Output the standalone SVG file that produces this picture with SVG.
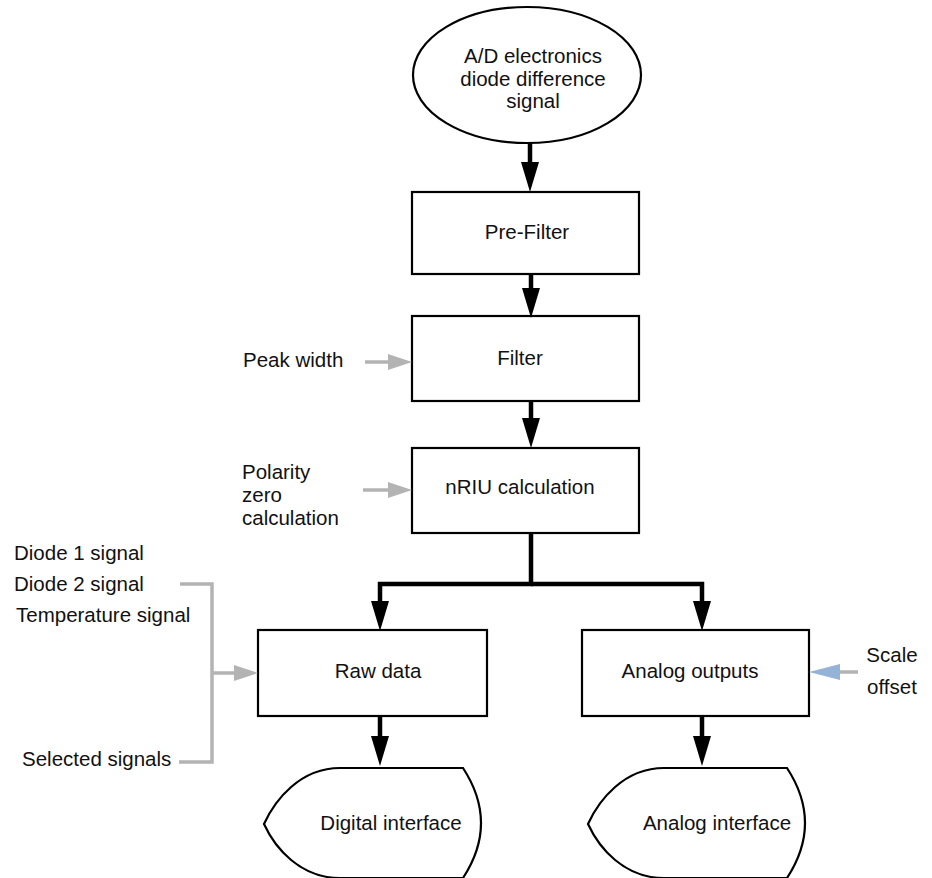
<svg xmlns="http://www.w3.org/2000/svg" width="932" height="878" viewBox="0 0 932 878">
<style>
  .shape { fill: #ffffff; stroke: #000000; stroke-width: 2.2; }
  .lbl { font-family: "Liberation Sans", Arial, sans-serif; font-size: 20.5px; fill: #111111; }
  .mid { text-anchor: middle; }
  .flow { fill: none; stroke: #000000; stroke-width: 4.5; stroke-linejoin: miter; }
  .aux { fill: none; stroke: #b3b3b3; stroke-width: 3.5; }
</style>
<defs>
  <marker id="ah" viewBox="0 -9 30 18" markerWidth="30" markerHeight="18" refX="0" refY="0" markerUnits="userSpaceOnUse" orient="auto">
    <path d="M0,-9 L30,0 L0,9 Z" fill="#000000"/>
  </marker>
  <marker id="gh" viewBox="0 -8 24 16" markerWidth="24" markerHeight="16" refX="0" refY="0" markerUnits="userSpaceOnUse" orient="auto">
    <path d="M0,-8 L24,0 L0,8 Z" fill="#b3b3b3"/>
  </marker>
  <marker id="bh" viewBox="0 -8 31 16" markerWidth="31" markerHeight="16" refX="0" refY="0" markerUnits="userSpaceOnUse" orient="auto">
    <path d="M0,-8 L31,0 L0,8 Z" fill="#95b3d7"/>
  </marker>
</defs>

<g id="source">
  <ellipse class="shape" cx="527" cy="75" rx="114" ry="68"/>
  <text class="lbl mid" x="533" y="63">A/D electronics</text>
  <text class="lbl mid" x="533" y="86">diode difference</text>
  <text class="lbl mid" x="533" y="108">signal</text>
</g>

<g id="prefilter">
  <rect class="shape" x="412" y="192" width="227" height="82"/>
  <text class="lbl mid" x="527" y="239">Pre-Filter</text>
</g>

<g id="filter">
  <rect class="shape" x="412" y="316" width="227" height="85"/>
  <text class="lbl mid" x="520" y="365">Filter</text>
</g>

<g id="nriu">
  <rect class="shape" x="412" y="448" width="227" height="85"/>
  <text class="lbl mid" x="520" y="494">nRIU calculation</text>
</g>

<g id="rawdata">
  <rect class="shape" x="258" y="630" width="229" height="86"/>
  <text class="lbl mid" x="378" y="678">Raw data</text>
</g>

<g id="analogoutputs">
  <rect class="shape" x="582" y="630" width="227" height="86"/>
  <text class="lbl mid" x="690" y="678">Analog outputs</text>
</g>

<g id="digitalinterface">
  <path class="shape" d="M340,768 L463,768 Q499,823 463,878 L340,878 C300,878 275,848 264,824 C275,800 300,768 340,768 Z"/>
  <text class="lbl mid" x="391" y="830">Digital interface</text>
</g>

<g id="analoginterface">
  <path class="shape" d="M664,768 L787,768 Q823,823 787,878 L664,878 C624,878 599,848 588,824 C599,800 624,768 664,768 Z"/>
  <text class="lbl mid" x="717" y="830">Analog interface</text>
</g>

<g id="peakwidth">
  <text class="lbl" x="243" y="367">Peak width</text>
</g>

<g id="polarity">
  <text class="lbl" x="242" y="479">Polarity</text>
  <text class="lbl" x="242" y="502">zero</text>
  <text class="lbl" x="242" y="525">calculation</text>
</g>

<g id="signals">
  <text class="lbl" x="14" y="560">Diode 1 signal</text>
  <text class="lbl" x="14" y="591">Diode 2 signal</text>
  <text class="lbl" x="16" y="622">Temperature signal</text>
  <text class="lbl" x="22" y="766">Selected signals</text>
</g>

<g id="scaleoffset">
  <text class="lbl mid" x="892" y="662">Scale</text>
  <text class="lbl mid" x="892" y="694">offset</text>
</g>

<g id="connectors">
  <line class="flow" x1="530" y1="143" x2="530" y2="162" marker-end="url(#ah)"/>
  <line class="flow" x1="531" y1="274" x2="531" y2="288" marker-end="url(#ah)"/>
  <line class="flow" x1="531" y1="401" x2="531" y2="418" marker-end="url(#ah)"/>
  <path class="flow" d="M531,533 V584 H380 V601" marker-end="url(#ah)"/>
  <path class="flow" d="M531,584 H702 V601" marker-end="url(#ah)"/>
  <line class="flow" x1="380" y1="716" x2="380" y2="736" marker-end="url(#ah)"/>
  <line class="flow" x1="702" y1="716" x2="702" y2="736" marker-end="url(#ah)"/>

  <line class="aux" x1="365" y1="362" x2="388" y2="362" marker-end="url(#gh)"/>
  <line class="aux" x1="363" y1="490" x2="388" y2="490" marker-end="url(#gh)"/>
  <polyline class="aux" points="180,584 212,584 212,762 179,762"/>
  <line class="aux" x1="212" y1="673" x2="234" y2="673" marker-end="url(#gh)"/>
  <line class="aux" x1="858" y1="672" x2="840" y2="672" marker-end="url(#bh)"/>
</g>
</svg>
